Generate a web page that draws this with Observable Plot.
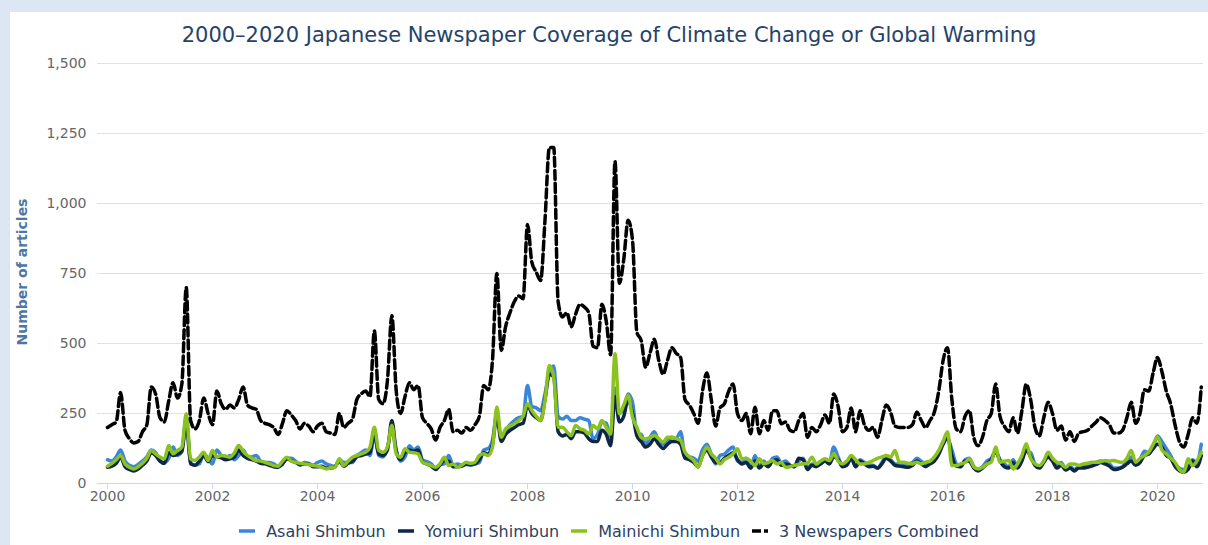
<!DOCTYPE html>
<html><head><meta charset="utf-8">
<script src="https://cdn.jsdelivr.net/npm/d3@7"></script>
<script src="https://cdn.jsdelivr.net/npm/@observablehq/plot@0.6"></script>
<style>
html,body{margin:0;padding:0;background:#dce7f3;}
body{width:1208px;height:545px;overflow:hidden;position:relative;font-family:"DejaVu Sans",sans-serif;}
#card{position:absolute;left:10px;top:12px;width:1198px;height:533px;background:#fff;}
#title{position:absolute;left:0;top:10px;width:1198px;text-align:center;font-size:21px;line-height:26px;color:#25436a;}
#ylabel{position:absolute;left:12px;top:260px;width:0;height:0;}
#ylabel span{position:absolute;transform:translate(-50%,-50%) rotate(-90deg);white-space:nowrap;font-size:14px;font-weight:bold;color:#4e76a5;}
#chart{position:absolute;left:0;top:38px;}
#legend{position:absolute;left:0;top:509px;width:1198px;height:20px;display:flex;justify-content:center;align-items:center;font-size:16px;color:#2d4263;}
.item{display:flex;align-items:center;margin:0 6px;}
.item svg{margin-right:11px;}
</style></head>
<body>
<div id="card">
  <div id="title">2000–2020 Japanese Newspaper Coverage of Climate Change or Global Warming</div>
  <div id="ylabel"><span>Number of articles</span></div>
  <div id="chart"></div>
  <div id="legend"></div>
</div>
<script>
// Monthly article counts, Jan 2000 – Nov 2020 (one row per year)
const years = d3.range(2000, 2021);
const seriesNames = ["Asahi Shimbun", "Yomiuri Shimbun", "Mainichi Shimbun", "3 Newspapers Combined"];
const seriesColors = ["#3a86d8", "#0f2744", "#8cc220", "#000000"];
const yTicks = [0, 250, 500, 750, 1000, 1250, 1500];
const xTicks = [2000, 2002, 2004, 2006, 2008, 2010, 2012, 2014, 2016, 2018, 2020];

const asahi = [
  85,80,95,120,80,65,60,68,80,95,120,110,
  80,75,90,130,100,115,235,75,65,70,105,90,
  70,120,100,90,100,85,100,120,95,95,100,80,
  75,75,70,60,70,90,90,80,65,75,72,65,
  75,80,70,65,60,85,75,75,75,100,110,120,
  100,175,100,95,130,195,120,80,95,135,120,130,
  85,78,70,55,68,70,100,65,70,65,68,65,
  70,75,120,125,155,250,165,190,210,225,235,240,
  350,275,270,260,320,400,420,240,230,240,225,225,
  235,230,225,160,175,220,215,165,340,250,270,320,
  290,180,175,140,165,185,150,140,150,165,160,185,
  100,95,90,80,120,140,105,70,100,105,120,130,
  80,75,90,55,100,60,80,65,90,95,75,80,
  65,60,80,90,55,70,65,70,80,75,130,95,
  65,70,95,60,85,75,65,65,55,75,100,85,
  70,70,70,70,75,90,80,70,75,85,110,150,
  160,120,70,60,85,90,60,50,60,80,90,115,
  85,70,60,85,60,90,115,110,70,60,80,100,
  90,65,75,50,60,50,60,60,60,70,75,80,
  75,70,55,55,60,80,95,70,85,115,110,130,
  170,150,125,100,70,55,50,55,85,75,140
];
const yomiuri = [
  58,62,72,95,60,50,45,52,65,80,110,100,
  80,72,110,100,105,115,220,70,65,80,100,78,
  100,95,92,85,88,95,120,100,90,85,80,72,
  70,65,60,58,70,88,82,75,68,70,70,60,
  60,62,55,55,60,80,62,72,80,95,100,105,
  110,180,105,100,120,225,115,85,110,120,115,120,
  78,70,62,50,66,82,80,60,60,62,70,68,
  70,85,110,105,140,240,150,175,190,200,210,215,
  280,250,235,225,300,390,380,185,170,175,160,185,
  185,180,160,150,150,190,175,135,310,220,240,300,
  250,170,150,130,140,160,140,125,140,150,150,140,
  90,85,75,60,100,120,95,75,75,90,100,110,
  85,70,75,55,80,55,70,60,80,85,65,70,
  65,60,90,85,50,65,60,70,80,70,95,85,
  60,65,90,60,80,70,60,62,55,70,90,80,
  65,62,60,58,65,80,70,60,70,80,105,140,
  165,100,62,60,80,80,55,45,55,70,85,115,
  80,60,55,75,55,80,120,95,65,55,75,95,
  80,55,65,48,55,45,55,55,58,62,68,75,
  70,62,50,52,58,70,80,65,75,100,105,125,
  140,130,100,90,62,45,40,50,80,60,100
];
const mainichi = [
  62,72,85,100,70,58,52,60,72,90,118,106,
  95,88,136,106,118,130,249,88,82,95,112,82,
  118,94,100,98,94,110,136,115,100,90,82,80,
  76,70,64,62,80,94,80,76,72,70,68,64,
  62,58,52,56,58,88,64,80,94,100,106,112,
  130,201,118,112,130,207,106,94,124,112,110,106,
  76,70,64,58,70,94,64,70,58,66,76,72,
  76,100,106,100,130,273,165,195,205,213,225,240,
  285,261,240,225,297,421,380,201,201,185,171,207,
  195,190,177,207,195,225,200,177,463,249,280,314,
  237,200,165,159,165,171,160,148,165,165,160,154,
  112,95,82,58,100,130,106,90,70,85,94,106,
  124,88,90,80,64,88,70,75,82,70,75,58,
  60,65,68,70,72,94,70,80,88,82,106,80,
  70,80,100,85,70,70,75,82,90,95,100,95,
  118,76,76,72,70,76,70,76,80,95,118,150,
  185,64,64,70,75,88,60,52,58,70,76,130,
  76,80,82,52,70,100,142,90,70,64,80,112,
  90,76,70,58,70,70,65,70,72,76,76,78,
  82,80,82,78,76,90,118,76,90,100,112,140,
  166,120,106,90,76,50,40,88,64,80,112
];
const combined = [
  200,210,220,325,190,160,145,150,185,210,345,320,
  235,220,295,360,305,355,700,225,195,225,305,250,
  210,330,285,265,280,270,300,345,280,270,265,225,
  215,210,200,175,215,260,245,225,195,215,205,185,
  205,215,185,180,175,250,200,215,230,300,320,330,
  310,545,300,285,370,600,330,250,310,360,335,350,
  235,215,195,155,200,225,265,185,190,180,200,190,
  210,240,350,335,440,750,475,560,610,650,670,660,
  925,790,755,725,940,1200,1200,650,595,610,560,605,
  640,630,610,490,485,640,580,460,1150,715,800,940,
  870,540,510,415,465,515,440,390,440,485,465,450,
  300,280,250,215,330,395,300,205,270,285,330,355,
  250,225,250,178,272,178,225,190,260,260,213,220,
  190,185,225,250,165,200,185,210,245,215,320,275,
  185,200,270,185,260,210,190,200,165,225,280,255,
  205,200,200,200,210,255,225,200,225,255,330,440,
  485,300,195,185,240,260,165,135,165,225,250,355,
  240,205,185,235,180,260,355,300,200,170,235,290,
  250,190,205,155,185,150,180,185,190,205,220,235,
  225,210,180,180,190,235,290,215,250,335,330,395,
  450,400,330,285,210,150,130,175,235,215,345
];

const toRows = (arr) => arr.map((v, i) => ({t: years[0] + i / 12, v}));
const data = [asahi, yomiuri, mainichi, combined].map(toRows);

const chart = Plot.plot({
  width: 1198,
  height: 460,
  marginLeft: 87,
  marginRight: 5,
  marginTop: 13,
  marginBottom: 27,
  style: {fontFamily: "DejaVu Sans, sans-serif", fontSize: "14px", color: "#666", background: "transparent", overflow: "visible"},
  x: {domain: [1999.81, 2020.876]},
  y: {domain: [0, 1500]},
  marks: [
    Plot.gridY(yTicks, {stroke: "#e0e0e0", strokeOpacity: 1}),
    Plot.axisY(yTicks, {tickSize: 0, tickPadding: 11, tickFormat: d3.format(","), label: null}),
    Plot.axisX(xTicks, {tickSize: 6, tickPadding: 2, tickFormat: d => String(d), stroke: "#ccd6eb", label: null}),
    Plot.ruleY([0], {stroke: "#ccd6eb"}),
    Plot.line(data[0], {x: "t", y: "v", stroke: seriesColors[0], strokeWidth: 3.5, curve: "monotone-x"}),
    Plot.line(data[1], {x: "t", y: "v", stroke: seriesColors[1], strokeWidth: 3.5, curve: "monotone-x"}),
    Plot.line(data[2], {x: "t", y: "v", stroke: seriesColors[2], strokeWidth: 3.5, curve: "monotone-x"}),
    Plot.line(data[3], {x: "t", y: "v", stroke: seriesColors[3], strokeWidth: 3.5, strokeDasharray: "9,4", curve: "monotone-x"})
  ]
});
document.getElementById("chart").appendChild(chart);

const legend = document.getElementById("legend");
seriesNames.forEach((name, i) => {
  const item = document.createElement("div");
  item.className = "item";
  const dash = i === 3 ? ' stroke-dasharray="9,3"' : '';
  item.innerHTML = `<svg width="16" height="10"><line x1="0" y1="5" x2="16" y2="5" stroke="${seriesColors[i]}" stroke-width="3.5"${dash}/></svg><span>${name}</span>`;
  legend.appendChild(item);
});
</script>
</body></html>
